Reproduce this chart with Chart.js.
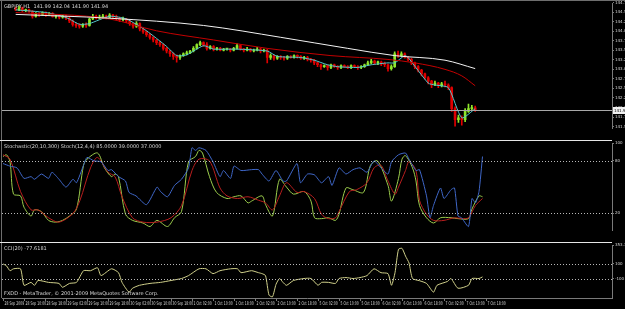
<!DOCTYPE html>
<html>
<head>
<meta charset="utf-8">
<script src="https://cdn.jsdelivr.net/npm/chart.js@4.4.1/dist/chart.umd.min.js"></script>
<style>
  html, body { margin: 0; padding: 0; background: #000; width: 625px; height: 309px; overflow: hidden; }
  canvas { position: absolute; left: 0; display: block; }
  #mainPane { top: 0; }
  #stochPane { top: 140px; }
  #cciPane { top: 242px; }
  .edge { position: absolute; background: #6e6e6e; }
</style>
</head>
<body>
<div class="edge" style="left:0;top:0;width:625px;height:1px"></div>
<div class="edge" style="left:1px;top:0;width:1px;height:298px"></div>
<canvas id="mainPane" width="625" height="140"></canvas>
<canvas id="stochPane" width="625" height="102"></canvas>
<canvas id="cciPane" width="625" height="67"></canvas>
<script>
// GBPJPY H1 with MAs, two stochastics and CCI, MT4 style panes.

// [open, high, low, close] per hourly bar
const ohlc = [
  [144.58,144.63,144.54,144.56],[144.56,144.66,144.54,144.61],[144.61,144.63,144.51,144.54],[144.54,144.58,144.51,144.56],
  [144.56,144.58,144.49,144.51],[144.51,144.54,144.34,144.39],[144.39,144.49,144.37,144.46],[144.46,144.49,144.39,144.44],
  [144.44,144.51,144.42,144.49],[144.49,144.51,144.39,144.44],[144.44,144.49,144.42,144.46],[144.46,144.49,144.37,144.39],
  [144.39,144.44,144.34,144.42],[144.42,144.44,144.32,144.37],[144.37,144.42,144.34,144.39],[144.39,144.42,144.30,144.34],
  [144.34,144.37,144.22,144.27],[144.27,144.30,144.13,144.18],[144.18,144.22,144.10,144.15],[144.15,144.20,144.08,144.13],
  [144.13,144.20,144.10,144.18],[144.18,144.22,144.10,144.15],[144.15,144.34,144.13,144.32],[144.32,144.44,144.30,144.39],
  [144.39,144.42,144.32,144.34],[144.34,144.42,144.32,144.37],[144.37,144.44,144.34,144.39],[144.39,144.42,144.32,144.37],
  [144.37,144.46,144.34,144.42],[144.42,144.44,144.34,144.39],[144.39,144.42,144.30,144.34],[144.34,144.37,144.25,144.30],
  [144.30,144.37,144.27,144.32],[144.32,144.34,144.22,144.27],[144.27,144.30,144.15,144.20],[144.20,144.22,144.08,144.13],
  [144.13,144.25,144.10,144.20],[144.20,144.22,144.01,144.06],[144.06,144.08,143.94,143.98],[143.98,144.01,143.86,143.91],
  [143.91,143.94,143.79,143.84],[143.84,143.86,143.72,143.77],[143.77,143.79,143.65,143.70],[143.70,143.74,143.60,143.65],
  [143.65,143.67,143.50,143.55],[143.55,143.58,143.43,143.48],[143.48,143.50,143.34,143.41],[143.41,143.43,143.26,143.34],
  [143.34,143.38,143.19,143.31],[143.31,143.38,143.26,143.36],[143.36,143.43,143.34,143.41],[143.41,143.48,143.38,143.43],
  [143.43,143.50,143.41,143.48],[143.48,143.60,143.46,143.55],[143.55,143.67,143.53,143.65],[143.65,143.74,143.62,143.70],
  [143.70,143.72,143.60,143.65],[143.65,143.70,143.50,143.55],[143.55,143.62,143.53,143.60],[143.60,143.62,143.48,143.53],
  [143.53,143.58,143.50,143.55],[143.55,143.58,143.48,143.50],[143.50,143.55,143.48,143.53],[143.53,143.55,143.50,143.53],
  [143.53,143.55,143.46,143.50],[143.50,143.58,143.48,143.55],[143.55,143.67,143.53,143.62],[143.62,143.65,143.50,143.53],
  [143.53,143.55,143.46,143.50],[143.50,143.58,143.48,143.53],[143.53,143.55,143.46,143.48],[143.48,143.53,143.46,143.50],
  [143.50,143.58,143.48,143.53],[143.53,143.55,143.43,143.48],[143.48,143.53,143.46,143.50],[143.50,143.53,143.17,143.31],
  [143.31,143.41,143.26,143.36],[143.36,143.38,143.24,143.29],[143.29,143.36,143.26,143.34],[143.34,143.36,143.26,143.31],
  [143.31,143.34,143.24,143.29],[143.29,143.36,143.26,143.34],[143.34,143.36,143.29,143.31],[143.31,143.38,143.29,143.36],
  [143.36,143.38,143.29,143.34],[143.34,143.36,143.26,143.29],[143.29,143.34,143.26,143.31],[143.31,143.34,143.22,143.26],
  [143.26,143.29,143.19,143.24],[143.24,143.26,143.12,143.17],[143.17,143.19,143.07,143.12],[143.12,143.14,143.00,143.07],
  [143.07,143.12,143.05,143.10],[143.10,143.12,142.98,143.05],[143.05,143.14,143.02,143.12],[143.12,143.14,143.05,143.07],
  [143.07,143.10,143.00,143.05],[143.05,143.12,143.02,143.10],[143.10,143.12,143.05,143.07],[143.07,143.10,143.02,143.05],
  [143.05,143.12,143.02,143.10],[143.10,143.12,143.05,143.07],[143.07,143.10,143.00,143.05],[143.05,143.10,143.02,143.07],
  [143.07,143.14,143.05,143.12],[143.12,143.22,143.10,143.17],[143.17,143.26,143.14,143.22],[143.22,143.24,143.12,143.17],
  [143.17,143.22,143.12,143.19],[143.19,143.22,143.10,143.14],[143.14,143.19,143.07,143.12],[143.12,143.14,142.95,143.02],
  [143.02,143.12,142.98,143.07],[143.07,143.46,143.05,143.41],[143.41,143.48,143.31,143.36],[143.36,143.46,143.34,143.41],
  [143.41,143.43,143.29,143.31],[143.31,143.34,143.22,143.26],[143.26,143.29,143.12,143.17],[143.17,143.19,143.02,143.07],
  [143.07,143.10,142.93,142.98],[142.98,143.00,142.83,142.88],[142.88,142.90,142.74,142.78],[142.78,142.81,142.62,142.69],
  [142.69,142.71,142.52,142.59],[142.59,142.69,142.57,142.64],[142.64,142.66,142.52,142.57],[142.57,142.66,142.54,142.62],
  [142.62,142.69,142.54,142.59],[142.59,142.62,142.47,142.52],[142.52,142.54,141.90,141.97],[141.97,142.02,141.51,141.68],
  [141.68,141.80,141.61,141.73],[141.73,141.78,141.54,141.68],[141.68,141.97,141.63,141.90],[141.90,142.09,141.87,141.97],
  [141.97,142.06,141.92,141.99],[141.99,142.04,141.90,141.94]
];

// moving averages, [bar, price]
const maWhite = [[0,144.44],[28,144.34],[56,144.15],[79,143.84],[99,143.55],[113,143.36],[128,143.24],[137,143.02]];
const maRed = [[0,144.49],[28,144.32],[42,144.01],[59,143.77],[75,143.55],[94,143.36],[111,143.26],[119,143.17],
  [128,143.00],[133,142.83],[137,142.57]];
const maCyan = [[0,144.56],[9,144.49],[14,144.39],[16,144.32],[19,144.18],[22,144.20],[28,144.39],[33,144.32],
  [39,144.01],[45,143.60],[48,143.36],[51,143.38],[56,143.62],[59,143.53],[66,143.53],[75,143.48],[78,143.34],
  [85,143.31],[89,143.24],[93,143.12],[96,143.07],[102,143.05],[106,143.12],[111,143.17],[113,143.17],[116,143.36],
  [117,143.31],[123,142.64],[125,142.59],[129,142.52],[133,141.73],[137,141.97]];

// stochastic lines, [bar, value]
const stochSlow = [[0,77],[2,74],[4,72],[6,60],[8,62],[9,59],[11,65],[13,60],[14,67],[16,59],[18,50],[20,59],[21,55],
  [23,75],[24,84],[26,80],[28,79],[30,69],[31,70],[33,62],[35,57],[36,44],[38,40],[41,30],[44,50],[45,45],[47,39],
  [49,52],[51,59],[53,72],[54,95],[55,92],[56,95],[58,92],[60,79],[62,62],[63,69],[65,60],[66,74],[68,69],[71,70],
  [73,70],[74,65],[76,57],[78,69],[80,57],[81,57],[84,77],[85,55],[87,65],[89,64],[91,55],[93,62],[94,52],[96,72],
  [98,65],[100,70],[102,72],[104,67],[106,80],[108,72],[110,65],[111,79],[113,87],[115,89],[116,82],[118,69],
  [119,70],[121,40],[122,15],[123,29],[125,49],[126,37],[128,47],[129,49],[130,17],[131,15],[133,5],[134,37],
  [135,32],[136,45],[137,85]];
const stochMain = [[0,85],[1,87],[2,79],[3,42],[5,40],[6,27],[8,17],[9,24],[11,22],[13,12],[15,10],[17,12],[19,17],
  [21,25],[23,75],[24,82],[27,89],[29,72],[31,62],[32,65],[33,62],[35,19],[37,12],[40,9],[42,5],[44,12],[47,5],
  [49,15],[51,22],[53,79],[55,85],[56,92],[57,89],[59,62],[61,44],[64,37],[66,39],[68,40],[70,32],[71,34],[74,40],
  [75,30],[77,17],[79,59],[81,50],[83,42],[86,45],[88,34],[89,15],[91,14],[93,15],[95,12],[96,19],[98,49],[100,47],
  [103,44],[105,75],[107,80],[110,52],[111,34],[113,60],[114,82],[115,86],[117,72],[118,57],[119,29],[121,15],
  [123,9],[125,15],[128,15],[130,14],[133,14],[134,25],[136,40],[137,39]];
const stochSignal = [[0,87],[2,82],[5,45],[8,24],[10,24],[13,15],[16,10],[20,20],[22,35],[25,72],[27,84],[30,67],
  [32,62],[34,39],[37,15],[40,10],[44,10],[48,15],[51,29],[54,69],[56,82],[59,80],[62,49],[64,40],[67,37],[70,39],
  [73,35],[75,32],[77,24],[79,40],[81,55],[84,44],[86,45],[89,37],[91,19],[93,14],[95,15],[96,22],[99,45],[101,47],
  [104,55],[106,72],[108,75],[110,57],[112,42],[113,50],[115,69],[116,79],[118,69],[119,35],[121,19],[123,12],
  [126,12],[129,15],[131,14],[133,15],[135,29],[137,37]];

// CCI(20), [bar, value]
const cci = [[0,100],[1,73],[2,7],[3,33],[5,33],[6,-193],[8,-153],[9,-193],[10,-127],[13,-153],[16,-167],[17,-220],
  [19,-167],[21,-153],[23,7],[25,7],[27,47],[28,-60],[31,33],[33,-20],[34,-153],[36,-287],[37,-233],[39,-193],
  [42,-167],[45,-153],[48,-127],[51,-100],[53,-60],[56,33],[58,33],[60,-33],[62,7],[65,33],[67,33],[68,-20],[71,7],
  [73,-20],[74,-33],[75,-60],[76,-327],[77,-350],[78,-180],[79,-100],[80,-153],[81,-193],[83,-127],[86,-100],
  [88,-100],[90,-193],[91,-153],[93,-153],[95,-167],[96,-100],[98,-87],[100,-100],[102,-87],[104,-60],[106,33],
  [108,-20],[110,-33],[111,-193],[112,-20],[113,300],[114,313],[115,207],[116,113],[117,-100],[119,-130],
  [121,-167],[123,-287],[124,-193],[127,-140],[128,-100],[130,-233],[133,-193],[134,-100],[136,-100],[137,-78]];

const timeLabels = ['28 Sep 2009','28 Sep 10:00','28 Sep 18:00','29 Sep 02:00','29 Sep 10:00','29 Sep 18:00',
  '30 Sep 02:00','30 Sep 10:00','30 Sep 18:00','1 Oct 02:00','1 Oct 10:00','1 Oct 18:00','2 Oct 02:00',
  '2 Oct 10:00','2 Oct 18:00','5 Oct 02:00','5 Oct 10:00','5 Oct 18:00','6 Oct 02:00','6 Oct 10:00',
  '6 Oct 18:00','7 Oct 02:00','7 Oct 10:00','7 Oct 18:00'];
const BARS_PER_LABEL = 6;

const BULL = '#8ee62a';
const BEAR = '#e00000';
const TEXT = '#d8d8d8';
const AXIS = '#7a7a7a';
const FONT = 'DejaVu Sans';

const X_MIN = -0.29;
const X_MAX = 174.0;

const pts = (arr) => arr.map(([x, y]) => ({ x, y }));
const last = ohlc[ohlc.length - 1];

// pane decorations: separators, dotted levels, bid line, captions, squeezed time labels
const paneDecor = {
  id: 'paneDecor',
  afterDatasetsDraw(chart, args, opts) {
    const { ctx, chartArea: a, scales } = chart;
    ctx.save();
    ctx.lineWidth = 1;
    ctx.setLineDash([1, 2]);
    ctx.strokeStyle = '#b8b8b8';
    for (const v of opts.levels || []) {
      const y = Math.round(scales.y.getPixelForValue(v)) + 0.5;
      ctx.beginPath();
      ctx.moveTo(a.left, y);
      ctx.lineTo(a.right, y);
      ctx.stroke();
    }
    ctx.setLineDash([]);
    if (opts.bid != null) {
      const y = Math.round(scales.y.getPixelForValue(opts.bid)) + 0.5;
      ctx.strokeStyle = '#a8a8a8';
      ctx.beginPath();
      ctx.moveTo(a.left, y);
      ctx.lineTo(a.right, y);
      ctx.stroke();
    }
    ctx.restore();
  },
  afterDraw(chart, args, opts) {
    const { ctx, chartArea: a, scales } = chart;
    ctx.save();
    if (opts.separator) {
      ctx.strokeStyle = '#e6e6e6';
      ctx.lineWidth = 1;
      ctx.beginPath();
      ctx.moveTo(0, 0.5);
      ctx.lineTo(a.right, 0.5);
      ctx.stroke();
    }
    ctx.font = `5px "${FONT}"`;
    ctx.textBaseline = 'top';
    ctx.fillStyle = TEXT;
    if (opts.title) ctx.fillText(opts.title, 4, a.top + 1);
    if (opts.footer) ctx.fillText(opts.footer, 4, a.bottom - 7);
    if (opts.timeAxis) {
      // MT4 time labels sit just right of each tick, in a narrow face
      for (const t of scales.x.ticks) {
        const label = timeLabels[Math.round(t.value / BARS_PER_LABEL)];
        if (!label) continue;
        ctx.save();
        ctx.translate(scales.x.getPixelForValue(t.value) + 1.5, a.bottom + 3);
        ctx.scale(0.62, 1);
        ctx.fillText(label, 0, 0);
        ctx.restore();
      }
    }
    if (opts.bid != null) {
      const y = Math.round(scales.y.getPixelForValue(opts.bid));
      ctx.fillStyle = '#f0f0f0';
      ctx.fillRect(a.right + 1, y - 3, 14, 7);
      ctx.fillStyle = '#000';
      ctx.textBaseline = 'middle';
      ctx.font = `4px "${FONT}"`;
      ctx.fillText(opts.bid.toFixed(2), a.right + 2, y + 0.5);
    }
    ctx.restore();
  },
};

function xAxis(show) {
  return {
    type: 'linear',
    min: X_MIN,
    max: X_MAX,
    display: show,
    afterBuildTicks: (s) => { s.ticks = timeLabels.map((_, k) => ({ value: k * BARS_PER_LABEL })); },
    afterFit: (s) => { s.height = 11; },
    border: { color: AXIS },
    grid: { drawOnChartArea: false, color: AXIS, tickLength: 3 },
    ticks: { display: false },
  };
}

function yAxis(min, max, tickValues, fmt) {
  return {
    position: 'right',
    min,
    max,
    afterFit: (s) => { s.width = 13; },
    afterBuildTicks: (s) => { s.ticks = tickValues.map((value) => ({ value })); },
    border: { color: AXIS },
    grid: { drawOnChartArea: false, color: AXIS, tickLength: 2 },
    ticks: { autoSkip: false, padding: 1, color: TEXT, font: { size: 4, family: FONT }, callback: fmt },
  };
}

const baseOptions = {
  responsive: false,
  animation: false,
  devicePixelRatio: 1,
  events: [],
};

// price ticks every 0.25
const priceTicks = [];
for (let v = 141.5; v <= 144.76; v += 0.25) priceTicks.push(+v.toFixed(2));

new Chart(document.getElementById('mainPane'), {
  type: 'bar',
  data: {
    datasets: [
      { type: 'line', data: pts(maWhite), borderColor: '#f2f2f2', borderWidth: 1, pointRadius: 0, cubicInterpolationMode: 'monotone', order: 1 },
      { type: 'line', data: pts(maRed), borderColor: '#c40000', borderWidth: 1, pointRadius: 0, cubicInterpolationMode: 'monotone', order: 1 },
      { type: 'line', data: pts(maCyan), borderColor: '#52c8cc', borderWidth: 1, pointRadius: 0, tension: 0.2, order: 2 },
      {
        data: ohlc.map((c, i) => ({ x: i, y: [c[0], c[3]] })),
        backgroundColor: ohlc.map((c) => (c[3] >= c[0] ? BULL : BEAR)),
        barThickness: 2, minBarLength: 1, grouped: false, order: 3,
      },
      {
        data: ohlc.map((c, i) => ({ x: i, y: [c[2], c[1]] })),
        backgroundColor: ohlc.map((c) => (c[3] >= c[0] ? BULL : BEAR)),
        barThickness: 1, grouped: false, order: 4,
      },
    ],
  },
  options: {
    ...baseOptions,
    layout: { padding: { top: 3, bottom: 1, left: 2, right: 0 } },
    scales: {
      x: xAxis(false),
      y: yAxis(141.464, 144.728, priceTicks, (v) => v.toFixed(2)),
    },
    plugins: {
      legend: { display: false },
      tooltip: { enabled: false },
      paneDecor: {
        title: `GBPJPY,H1  ${last[0].toFixed(2)} ${last[1].toFixed(2)} ${last[2].toFixed(2)} ${last[3].toFixed(2)}`,
        bid: last[3],
      },
    },
  },
  plugins: [paneDecor],
});

const sLast = (arr) => arr[arr.length - 1][1];

new Chart(document.getElementById('stochPane'), {
  type: 'line',
  data: {
    datasets: [
      { data: pts(stochSlow), borderColor: '#3f67c8', borderWidth: 1, pointRadius: 0, tension: 0.2 },
      { data: pts(stochSignal), borderColor: '#b81e1e', borderWidth: 1, pointRadius: 0, tension: 0.3 },
      { data: pts(stochMain), borderColor: '#9ccd4c', borderWidth: 1, pointRadius: 0, tension: 0.3 },
    ],
  },
  options: {
    ...baseOptions,
    layout: { padding: { top: 2, bottom: 1, left: 2, right: 0 } },
    scales: {
      x: xAxis(false),
      y: yAxis(1, 100, [100, 80, 20], (v) => String(v)),
    },
    plugins: {
      legend: { display: false },
      tooltip: { enabled: false },
      paneDecor: {
        separator: true,
        levels: [80, 20],
        title: `Stochastic(20,10,300) Stoch(12,4,4) ${sLast(stochSlow).toFixed(4)} ${sLast(stochMain).toFixed(4)} ${sLast(stochSignal).toFixed(4)}`,
      },
    },
  },
  plugins: [paneDecor],
});

new Chart(document.getElementById('cciPane'), {
  type: 'line',
  data: {
    datasets: [
      { data: pts(cci), borderColor: '#cfcf8a', borderWidth: 1, pointRadius: 0, tension: 0.2 },
    ],
  },
  options: {
    ...baseOptions,
    layout: { padding: { top: 2, bottom: 0, left: 2, right: 0 } },
    scales: {
      x: xAxis(true),
      y: yAxis(-366.7, 353.3, [353.3, 100, -100], (v) => (Math.abs(v) === 100 ? String(v) : v.toFixed(4))),
    },
    plugins: {
      legend: { display: false },
      tooltip: { enabled: false },
      paneDecor: {
        separator: true,
        levels: [100, -100],
        timeAxis: true,
        title: `CCI(20) ${(-77.6181).toFixed(4)}`,
        footer: 'FXDD - MetaTrader, \u00a9 2001-2009 MetaQuotes Software Corp.',
      },
    },
  },
  plugins: [paneDecor],
});
</script>
</body>
</html>
